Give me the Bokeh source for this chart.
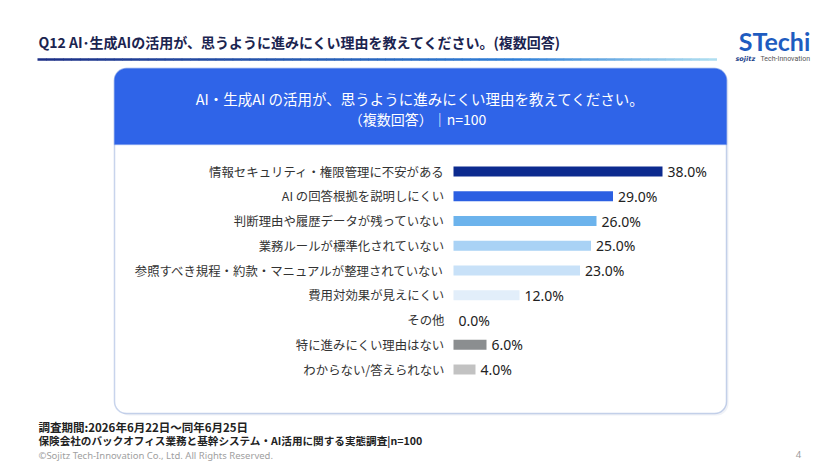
from bokeh.plotting import figure
from bokeh.models import Range1d, BoxAnnotation, ColumnDataSource, Label
from bokeh.core.properties import value
from bokeh.embed import file_html
from bokeh.resources import INLINE
import numpy as np

# ---------------- data ----------------
categories = [
    "情報セキュリティ・権限管理に不安がある",
    "AI の回答根拠を説明しにくい",
    "判断理由や履歴データが残っていない",
    "業務ルールが標準化されていない",
    "参照すべき規程・約款・マニュアルが整理されていない",
    "費用対効果が見えにくい",
    "その他",
    "特に進みにくい理由はない",
    "わからない/答えられない",
]
values = [38.0, 29.0, 26.0, 25.0, 23.0, 12.0, 0.0, 6.0, 4.0]
value_labels = [f"{v:.1f}%" for v in values]

title_text = "Q12  AI･生成AIの活用が、思うように進みにくい理由を教えてください。(複数回答)"
card_title_1 = "AI・生成AI の活用が、思うように進みにくい理由を教えてください。"
card_title_2 = "（複数回答）｜n=100"
footer_1 = "調査期間:2026年6月22日～同年6月25日"
footer_2 = "保険会社のバックオフィス業務と基幹システム・AI活用に関する実態調査|n=100"
copyright_text = "©Sojitz Tech-Innovation Co., Ltd. All Rights Reserved."
page_number = "4"

# ---------------- styles / layout ----------------
bar_colors = ["#0c2a8f", "#2b5fe2", "#6cb3ec", "#a9d2f5", "#c8e1f8",
              "#e2eefa", "#e2eefa", "#8b8e90", "#c2c2c2"]
JP = "Noto Sans CJK JP"
W, H = 832, 465
OX, OY = 0, 0                 # page offset of the canvas
ZERO_X = 453                  # page x of 0%
PX_PER_PCT = 5.5
ROW0_Y = 171                  # page y of first row
ROW_STEP = 24.75

p = figure(width=W, height=H, output_backend="svg", toolbar_location=None,
           x_range=Range1d(OX, OX + W), y_range=Range1d(OY + H, OY),
           min_border=0, border_fill_color="white", background_fill_color="white",
           outline_line_color=None)
p.axis.visible = False
p.grid.visible = False

x0 = (OX - ZERO_X) / PX_PER_PCT
x1 = (OX + W - ZERO_X) / PX_PER_PCT
p.extra_x_ranges = {"pct": Range1d(x0, x1)}
y_start = (OY + H - ROW0_Y) / ROW_STEP
y_end = (OY - ROW0_Y) / ROW_STEP
p.extra_y_ranges = {"rows": Range1d(y_start, y_end)}

# ---------------- header ----------------
p.add_layout(Label(x=38, y=41, text=title_text, text_font=JP, text_font_size="14px",
                   text_font_style="bold", text_color="#1b2450", text_baseline="middle"))
n = 80
gx0, gx1 = 37, 716
xs = np.linspace(gx0, gx1, n + 1)
def mix(c1, c2, t):
    a = [int(c1[i:i+2], 16) for i in (1, 3, 5)]
    b = [int(c2[i:i+2], 16) for i in (1, 3, 5)]
    return "#%02x%02x%02x" % tuple(int(a[k] + (b[k] - a[k]) * t) for k in range(3))
seg_cols = [mix("#1c2f86", "#2f7fd8", i / (n * 0.7)) if i < n * 0.7
            else mix("#2f7fd8", "#b5e3f2", (i - n * 0.7) / (n * 0.3)) for i in range(n)]
p.segment(x0=xs[:-1], x1=xs[1:] + 0.5, y0=[59] * n, y1=[59] * n,
          line_color=seg_cols, line_width=2.5)

# logo
p.add_layout(Label(x=774, y=40, text="STechi", text_font="Lato", text_font_size="25px",
                   text_font_style="bold", text_color="#1e5cc0", text_align="center",
                   text_baseline="middle"))
p.add_layout(Label(x=735, y=58, text="sojitz", text_font="DejaVu Sans", text_font_size="6.5px",
                   text_font_style="bold italic", text_color="#1c3f8a", text_baseline="middle"))
p.add_layout(Label(x=760, y=58, text="Tech-Innovation", text_font="Roboto", text_font_size="7px",
                   text_color="#555555", text_baseline="middle"))

# ---------------- card (drawn beneath the glyphs) ----------------
p.add_layout(BoxAnnotation(left=117, right=728, top=70, bottom=415, fill_color="#e6eaf2",
                           fill_alpha=0.6, line_color=None, border_radius=12, level="underlay"))
p.add_layout(BoxAnnotation(left=114, right=726, top=68, bottom=413, fill_color="white",
                           fill_alpha=1, line_color="#4a6fbf", line_width=1.5, border_radius=12,
                           level="underlay"))
p.add_layout(BoxAnnotation(left=114, right=726, top=68, bottom=144, fill_color="#2f64e8",
                           fill_alpha=1, line_color="#2f64e8", line_width=1.5,
                           border_radius=(12, 12, 0, 0), level="underlay"))
p.add_layout(Label(x=420, y=98, text=card_title_1, text_font=JP, text_font_size="14.5px",
                   text_color="white", text_align="center", text_baseline="middle"))
p.add_layout(Label(x=417, y=118, text=card_title_2, text_font=JP, text_font_size="14px",
                   text_color="white", text_align="center", text_baseline="middle"))

# ---------------- bars ----------------
src = ColumnDataSource(dict(idx=list(range(len(categories))), cat=categories, val=values,
                            lab=value_labels, color=bar_colors))
p.hbar(y="idx", left=0, right="val", height=10 / ROW_STEP, fill_color="color",
       line_color=None, source=src, x_range_name="pct", y_range_name="rows")
p.text(x=0, y="idx", text="cat", x_offset=-9, text_align="right", text_baseline="middle",
       text_font=value(JP), text_font_size="12.4px", text_color="#333333", source=src,
       x_range_name="pct", y_range_name="rows")
p.text(x="val", y="idx", text="lab", x_offset=5, text_align="left", text_baseline="middle",
       text_font=value("Noto Sans"), text_font_size="14px", text_color="#222222", source=src,
       x_range_name="pct", y_range_name="rows")

# ---------------- footer ----------------
p.add_layout(Label(x=38, y=426, text=footer_1, text_font=JP, text_font_size="11.5px",
                   text_font_style="bold", text_color="#222222", text_baseline="middle"))
p.add_layout(Label(x=38, y=440, text=footer_2, text_font=JP, text_font_size="10.6px",
                   text_font_style="bold", text_color="#222222", text_baseline="middle"))
p.add_layout(Label(x=38, y=455, text=copyright_text, text_font="Noto Sans",
                   text_font_size="9.5px", text_color="#a0a0a0", text_baseline="middle"))
p.add_layout(Label(x=798, y=454, text=page_number, text_font="Noto Sans",
                   text_font_size="9.5px", text_color="#9a9a9a", text_align="center",
                   text_baseline="middle"))

open("out.html", "w").write(file_html(p, INLINE))
